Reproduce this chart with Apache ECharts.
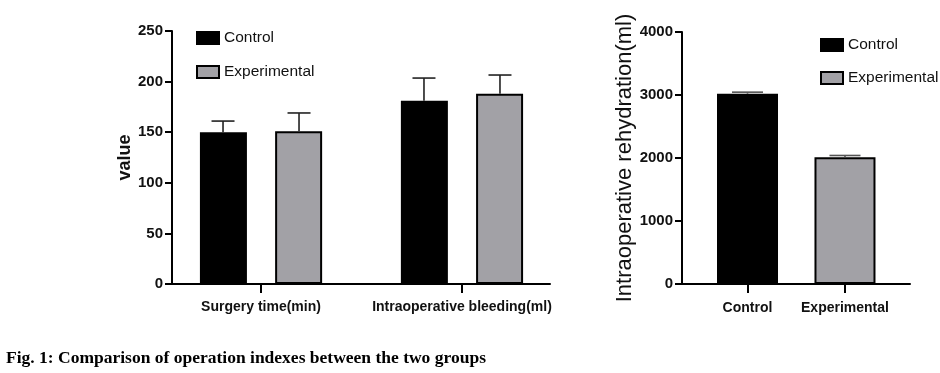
<!DOCTYPE html>
<html>
<head>
<meta charset="utf-8">
<script src="https://cdn.jsdelivr.net/npm/echarts@6/dist/echarts.min.js"></script>
<style>
html,body{margin:0;padding:0;background:#fff;}
#c{width:940px;height:373px;}
</style>
</head>
<body>
<div id="c"></div>
<script>
// ---- data ----
const leftCategories = ['Surgery time(min)', 'Intraoperative bleeding(ml)'];
const leftControl = [150, 181];
const leftControlErr = [161, 203.5];
const leftExperimental = [151, 188];
const leftExperimentalErr = [169, 206.5];
const leftTicks = [0, 50, 100, 150, 200, 250];

const rightCategories = ['Control', 'Experimental'];
const rightValues = [3020, 2010];
const rightErr = [3045, 2040];
const rightTicks = [0, 1000, 2000, 3000, 4000];

const seriesNames = ['Control', 'Experimental'];
const caption = 'Fig. 1: Comparison of operation indexes between the two groups';

// ---- styles ----
const BLACK = '#000000';
const GRAY = '#a2a1a6';
const font = "'Liberation Sans', Arial, sans-serif";

const chart = echarts.init(document.getElementById('c'), null, {renderer: 'canvas'});

function idx(arr) { return arr.map((v, i) => [i, v]); }
function errData(vals, errs) { return vals.map((v, i) => [i, v, errs[i]]); }

function errRender(offset, capHalf, color) {
  return function (params, api) {
    const x = api.value(0);
    const p0 = api.coord([x, api.value(1)]);
    const p1 = api.coord([x, api.value(2)]);
    const cx = p0[0] + offset;
    return {
      type: 'group',
      children: [
        {type: 'line', shape: {x1: cx, y1: p0[1], x2: cx, y2: p1[1]}, style: {stroke: color, lineWidth: 1.6}},
        {type: 'line', shape: {x1: cx - capHalf, y1: p1[1], x2: cx + capHalf, y2: p1[1]}, style: {stroke: color, lineWidth: 1.6}}
      ]
    };
  };
}

const xAxisLine = {show: true, onZero: false, lineStyle: {color: BLACK, width: 2}};
const yAxisLine = {show: true, onZero: false, lineStyle: {color: BLACK, width: 2}};
const legendText = {fontFamily: font, fontSize: 15.5, color: '#111'};

const option = {
  backgroundColor: '#ffffff',
  animation: false,
  grid: [
    {left: 172, top: 31, width: 378, bottom: 89, containLabel: false},
    {left: 682, top: 32, width: 228, bottom: 89, containLabel: false}
  ],
  legend: [
    {
      data: seriesNames, orient: 'vertical', left: 191, top: 25, itemWidth: 22, itemHeight: 12, itemGap: 18,
      icon: 'rect', textStyle: legendText, selectedMode: false
    },
    {
      data: seriesNames, orient: 'vertical', left: 815, top: 32, itemWidth: 22, itemHeight: 12, itemGap: 17,
      icon: 'rect', textStyle: legendText, selectedMode: false
    }
  ],
  xAxis: [
    {
      type: 'value', gridIndex: 0, min: -0.443, max: 1.438, splitLine: {show: false},
      axisLine: xAxisLine,
      axisTick: {show: true, customValues: [0, 1], length: 9, lineStyle: {color: BLACK, width: 2}},
      axisLabel: {customValues: [0, 1], formatter: v => leftCategories[Math.round(v)], margin: 16,
        fontFamily: font, fontWeight: 'bold', fontSize: 14, color: '#111'}
    },
    {
      type: 'value', gridIndex: 1, min: -0.672, max: 1.667, splitLine: {show: false},
      axisLine: xAxisLine,
      axisTick: {show: true, customValues: [0, 1], length: 9, lineStyle: {color: BLACK, width: 2}},
      axisLabel: {customValues: [0, 1], formatter: v => rightCategories[Math.round(v)], margin: 17,
        fontFamily: font, fontWeight: 'bold', fontSize: 14, color: '#111'}
    }
  ],
  yAxis: [
    {
      type: 'value', gridIndex: 0, min: leftTicks[0], max: leftTicks[leftTicks.length - 1], interval: 50,
      name: 'value', nameLocation: 'middle', nameGap: 37,
      nameTextStyle: {fontFamily: font, fontWeight: 'bold', fontSize: 18, color: '#111'},
      splitLine: {show: false}, axisLine: yAxisLine,
      axisTick: {show: true, length: 7, lineStyle: {color: BLACK, width: 2}},
      axisLabel: {margin: 9, fontFamily: font, fontWeight: 'bold', fontSize: 15, color: '#111',
        formatter: v => String(v)}
    },
    {
      type: 'value', gridIndex: 1, min: rightTicks[0], max: rightTicks[rightTicks.length - 1], interval: 1000,
      name: 'Intraoperative rehydration(ml)', nameLocation: 'middle', nameGap: 43,
      nameTextStyle: {fontFamily: font, fontSize: 22, color: '#111'},
      splitLine: {show: false}, axisLine: yAxisLine,
      axisTick: {show: true, length: 7, lineStyle: {color: BLACK, width: 2}},
      axisLabel: {margin: 9, fontFamily: font, fontWeight: 'bold', fontSize: 15, color: '#111',
        formatter: v => String(v)}
    }
  ],
  graphic: [
    {type: 'text', left: 6, top: 349, style: {text: caption, fontFamily: "'Liberation Serif', 'Times New Roman', serif", fontWeight: 'bold', fontSize: 17.5, fill: '#000'}}
  ],
  series: [
    {
      name: 'Control', type: 'bar', xAxisIndex: 0, yAxisIndex: 0, barWidth: 47, barGap: '60%',
      itemStyle: {color: BLACK, borderColor: BLACK, borderWidth: 2}, data: idx(leftControl)
    },
    {
      name: 'Experimental', type: 'bar', xAxisIndex: 0, yAxisIndex: 0, barWidth: 47, barGap: '60%',
      itemStyle: {color: GRAY, borderColor: BLACK, borderWidth: 2}, data: idx(leftExperimental)
    },
    {
      name: 'errC', type: 'custom', xAxisIndex: 0, yAxisIndex: 0, z: 5,
      renderItem: errRender(-38, 11.5, '#222'), data: errData(leftControl, leftControlErr)
    },
    {
      name: 'errE', type: 'custom', xAxisIndex: 0, yAxisIndex: 0, z: 5,
      renderItem: errRender(38, 11.5, '#222'), data: errData(leftExperimental, leftExperimentalErr)
    },
    {
      name: 'Control', type: 'bar', xAxisIndex: 1, yAxisIndex: 1, barWidth: 61, barGap: '-100%',
      itemStyle: {color: BLACK, borderColor: BLACK, borderWidth: 2}, data: [[0, rightValues[0]]]
    },
    {
      name: 'Experimental', type: 'bar', xAxisIndex: 1, yAxisIndex: 1, barWidth: 61, barGap: '-100%',
      itemStyle: {color: GRAY, borderColor: BLACK, borderWidth: 2}, data: [[1, rightValues[1]]]
    },
    {
      name: 'errR', type: 'custom', xAxisIndex: 1, yAxisIndex: 1, z: 5,
      renderItem: errRender(0, 15.5, '#555'), data: errData(rightValues, rightErr)
    }
  ]
};
chart.setOption(option);
</script>
</body>
</html>
